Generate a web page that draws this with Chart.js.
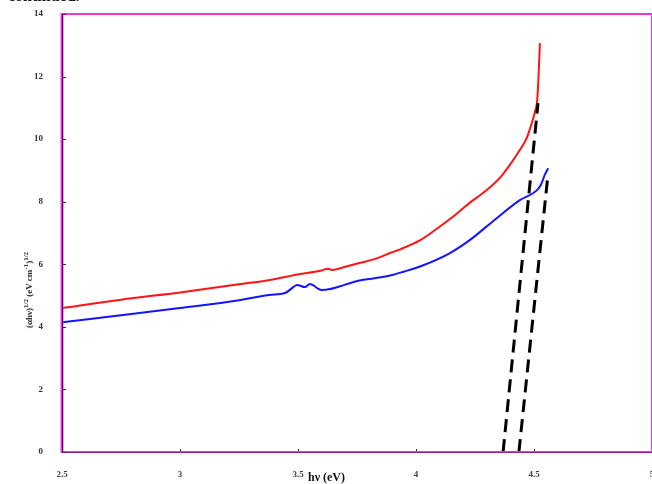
<!DOCTYPE html>
<html>
<head>
<meta charset="utf-8">
<script src="https://cdn.jsdelivr.net/npm/chart.js@4.4.1/dist/chart.umd.min.js"></script>
<style>
  html, body { margin: 0; padding: 0; background: #fff; overflow: hidden; }
  #wrap { position: relative; width: 652px; height: 484px; }
  #top { position: absolute; left: 8px; top: -13px; font: bold 16px "Liberation Serif", serif; color: #111; }
  #ytitle { position: absolute; left: 28px; top: 290px; transform: translate(-50%, -50%) rotate(-90deg);
            font: bold 9px "Liberation Serif", serif; color: #222; white-space: nowrap; }
  #xtitle { position: absolute; left: 308px; top: 470px; font: bold 12px "Liberation Serif", serif; color: #111; white-space: nowrap; }
  sup { font-size: 7px; }
</style>
</head>
<body>
<div id="wrap">
  <canvas id="c" width="652" height="484"></canvas>
  <div id="top">continued.</div>
  <div id="ytitle">(&alpha;h&nu;)<sup>1/2</sup> (eV cm<sup>-1</sup>)<sup>1/2</sup></div>
  <div id="xtitle">h&nu; (eV)</div>
</div>
<script>
  // photon energy (eV) and (alpha h nu)^1/2
  const redX = [2.5, 2.75, 3.0, 3.25, 3.38, 3.51, 3.6, 3.625, 3.645, 3.7, 3.76, 3.83, 3.89, 3.93, 4.02, 4.1, 4.17, 4.23, 4.27, 4.32, 4.36, 4.4, 4.44, 4.47, 4.49, 4.505, 4.513, 4.518, 4.522, 4.525];
  const redY = [4.60, 4.87, 5.10, 5.36, 5.50, 5.69, 5.80, 5.86, 5.82, 5.92, 6.04, 6.18, 6.36, 6.47, 6.78, 7.20, 7.60, 7.98, 8.20, 8.50, 8.80, 9.20, 9.65, 10.05, 10.5, 10.9, 11.2, 11.8, 12.5, 13.07];

  const blueX = [2.5, 2.75, 3.0, 3.25, 3.3, 3.38, 3.445, 3.48, 3.496, 3.53, 3.55, 3.6, 3.636, 3.7, 3.76, 3.83, 3.89, 3.95, 4.017, 4.144, 4.229, 4.33, 4.44, 4.513, 4.53, 4.545, 4.56];
  const blueY = [4.15, 4.37, 4.60, 4.85, 4.92, 5.02, 5.08, 5.27, 5.34, 5.27, 5.37, 5.18, 5.21, 5.35, 5.48, 5.56, 5.64, 5.77, 5.93, 6.36, 6.78, 7.40, 8.05, 8.37, 8.55, 8.85, 9.07];

  // extrapolated linear fits (dashed)
  const fitRedX = [4.369, 4.517];
  const fitRedY = [0, 11.15];
  const fitBlueX = [4.436, 4.559];
  const fitBlueY = [0, 8.85];

  const xTicks = [2.5, 3, 3.5, 4, 4.5, 5];
  const yTicks = [0, 2, 4, 6, 8, 10, 12, 14];

  const pts = (xs, ys) => xs.map((x, i) => ({ x, y: ys[i] }));

  const lineSet = (data, color, width, dash) => ({
    data,
    borderColor: color,
    borderWidth: width,
    borderDash: dash || [],
    pointRadius: 0,
    showLine: true,
    fill: false,
    cubicInterpolationMode: 'monotone',
    borderCapStyle: 'butt'
  });

  // magenta frame with dark axis cores and small inward ticks
  const framePlugin = {
    id: 'frame',
    afterDatasetsDraw(chart) {
      const { ctx, chartArea: a, scales } = chart;
      ctx.save();
      ctx.strokeStyle = '#ee33ee';
      ctx.lineWidth = 2;
      ctx.beginPath(); ctx.moveTo(a.left, a.top); ctx.lineTo(a.right, a.top); ctx.stroke();
      ctx.lineWidth = 1;
      ctx.beginPath(); ctx.moveTo(a.right - 0.5, a.top); ctx.lineTo(a.right - 0.5, a.bottom); ctx.stroke();
      ctx.lineWidth = 3;
      ctx.beginPath(); ctx.moveTo(a.left, a.top - 1); ctx.lineTo(a.left, a.bottom + 1); ctx.stroke();
      ctx.lineWidth = 2;
      ctx.beginPath(); ctx.moveTo(a.left, a.bottom); ctx.lineTo(a.right, a.bottom); ctx.stroke();
      ctx.strokeStyle = '#3a0a3a';
      ctx.lineWidth = 1;
      ctx.beginPath(); ctx.moveTo(a.left + 0.5, a.top); ctx.lineTo(a.left + 0.5, a.bottom); ctx.stroke();
      ctx.strokeStyle = '#9a1a9a';
      ctx.beginPath(); ctx.moveTo(a.left, a.bottom + 0.5); ctx.lineTo(a.right, a.bottom + 0.5); ctx.stroke();
      ctx.strokeStyle = '#333';
      xTicks.forEach(v => {
        const px = Math.round(scales.x.getPixelForValue(v)) + 0.5;
        ctx.beginPath(); ctx.moveTo(px, a.bottom - 1); ctx.lineTo(px, a.bottom - 3); ctx.stroke();
      });
      yTicks.forEach(v => {
        const py = Math.round(scales.y.getPixelForValue(v)) + 0.5;
        ctx.beginPath(); ctx.moveTo(a.left + 1, py); ctx.lineTo(a.left + 4, py); ctx.stroke();
      });
      ctx.restore();
    }
  };

  const tickFont = { family: 'Liberation Serif', size: 9, weight: 'bold' };

  new Chart(document.getElementById('c'), {
    type: 'scatter',
    data: {
      datasets: [
        lineSet(pts(fitRedX, fitRedY), '#000', 3, [13, 7]),
        lineSet(pts(fitBlueX, fitBlueY), '#000', 3, [13, 7]),
        lineSet(pts(redX, redY), '#ff1414', 2),
        lineSet(pts(blueX, blueY), '#1414ff', 2)
      ]
    },
    options: {
      responsive: false,
      animation: false,
      layout: { padding: { top: 14, left: 0, right: 0, bottom: 0 } },
      plugins: { legend: { display: false }, tooltip: { enabled: false } },
      scales: {
        x: {
          type: 'linear',
          min: 2.5,
          max: 5,
          afterBuildTicks: s => { s.ticks = xTicks.map(value => ({ value })); },
          afterFit: s => { s.height = 32; s.paddingLeft = 0; s.paddingRight = 0; },
          grid: { display: false },
          border: { display: false },
          ticks: { font: tickFont, color: '#444', padding: 9, maxRotation: 0, autoSkip: false,
                   callback: v => String(v) }
        },
        y: {
          type: 'linear',
          min: 0,
          max: 14,
          afterBuildTicks: s => { s.ticks = yTicks.map(value => ({ value })); },
          afterFit: s => { s.width = 62; s.paddingTop = 0; s.paddingBottom = 0; },
          grid: { display: false },
          border: { display: false },
          ticks: { font: tickFont, color: '#333', padding: 11, autoSkip: false }
        }
      }
    },
    plugins: [framePlugin]
  });
</script>
</body>
</html>
